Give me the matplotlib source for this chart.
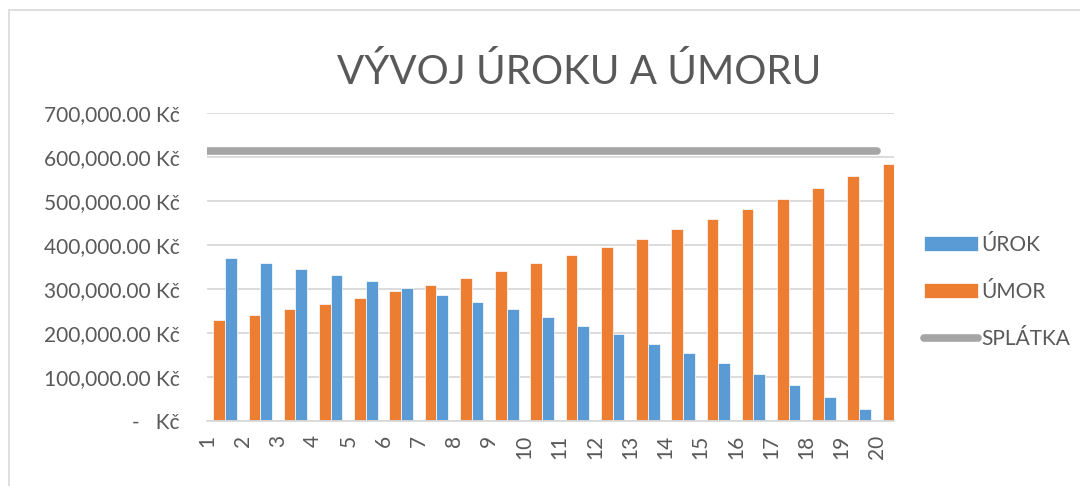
import numpy as np
import matplotlib.pyplot as plt
from matplotlib.patches import Rectangle

roky = [str(i) for i in range(1, 21)]
urok = [369600, 358300, 345400, 331000, 317500, 303000, 287000, 271200, 254000, 235800,
        216800, 197300, 176000, 154200, 131500, 107300, 81900, 55500, 27500, 0]
umor = [229700, 241000, 254000, 266700, 280300, 294800, 308400, 325000, 340800, 358300,
        376400, 395200, 414000, 435400, 458600, 481000, 505000, 530000, 557000, 584500]
splatka = [613000] * 20
y_ticks = [0, 100000, 200000, 300000, 400000, 500000, 600000, 700000]

blue = "#5B9BD5"
orange = "#ED7D31"
gray = "#A5A5A5"
grid = "#D9D9D9"
txt = "#595959"

plt.rcParams['font.family'] = ['Lato', 'DejaVu Sans']
fs = 15

fig = plt.figure(figsize=(10.8, 4.86), dpi=100)
# chart frame
fig.patches.append(Rectangle((9 / 1080, -0.1), 1.2, 1.1 - 10 / 486, transform=fig.transFigure,
                             fill=False, edgecolor=grid, linewidth=1.2))

ax = fig.add_axes([207.4 / 1080, 1 - 421.3 / 486, 687 / 1080, (421.3 - 112.7) / 486])

x = np.arange(len(roky))
w = 1 / 3
b_umor = ax.bar(x + 1 / 6, umor, width=w, align='edge', color=orange, edgecolor='white',
                linewidth=0.5, zorder=2)
b_urok = ax.bar(x + 0.5, urok, width=w, align='edge', color=blue, edgecolor='white',
                linewidth=0.5, zorder=2)
l_spl, = ax.plot(x, splatka, color=gray, linewidth=5.5, solid_capstyle='round', zorder=3)

ax.set_xlim(0, 19.5)
ax.set_ylim(0, 700000)

ax.set_yticks(y_ticks)
ax.set_yticklabels([f"{v:,.2f} Kč" if v else "-   Kč" for v in y_ticks])
ax.yaxis.grid(True, color=grid, linewidth=1.3, zorder=0)
ax.set_axisbelow(True)

ax.set_xticks(x)
ax.set_xticklabels(roky, rotation=90, va='top', ha='center')
ax.set_xticks([0, 5, 10, 15], minor=True)

ax.tick_params(axis='y', length=0, pad=20, labelsize=fs, labelcolor=txt)
ax.tick_params(axis='x', which='major', length=0, pad=10, labelsize=fs, labelcolor=txt)
ax.tick_params(axis='x', which='minor', length=5, direction='in', color=grid, width=1.3)

for s in ['top', 'right', 'left']:
    ax.spines[s].set_visible(False)
ax.spines['bottom'].set_color(grid)
ax.spines['bottom'].set_linewidth(1.3)

fig.text(579 / 1080, 1 - 72 / 486, "VÝVOJ ÚROKU A ÚMORU", ha='center', va='center',
         fontsize=29, color=txt)

leg = fig.legend([b_urok, b_umor, l_spl], ["ÚROK", "ÚMOR", "SPLÁTKA"], loc='center left',
                 bbox_to_anchor=(905 / 1080, 1 - 292 / 486), frameon=False,
                 fontsize=fs, handlelength=2.6, handleheight=0.7, handletextpad=0.15,
                 labelspacing=1.3, labelcolor=txt)

fig.savefig("out.png", dpi=100)
